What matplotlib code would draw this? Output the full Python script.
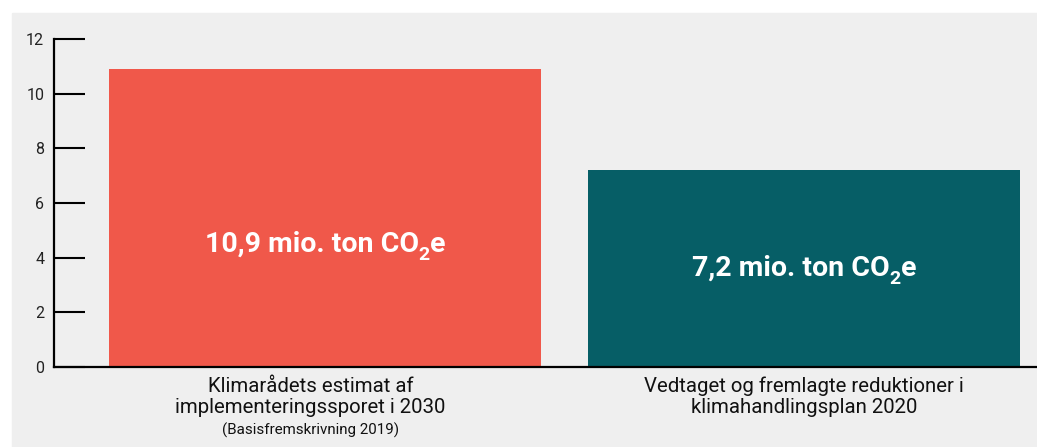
import matplotlib.pyplot as plt
from matplotlib.patches import Rectangle
from matplotlib.transforms import offset_copy

plt.rcParams['font.family'] = ['Roboto', 'DejaVu Sans']

# data
values = [10.9, 7.2]
bar_texts = ['10,9 mio. ton CO', '7,2 mio. ton CO']
categories = ['Klimarådets estimat af\nimplementeringssporet i 2030',
              'Vedtaget og fremlagte reduktioner i\nklimahandlingsplan 2020']
sub_labels = ['(Basisfremskrivning 2019)', '']
colors = ['#F0584A', '#065E66']
yticks = [0, 2, 4, 6, 8, 10, 12]

fig = plt.figure(figsize=(10.37, 4.47), dpi=100)
fig.patch.set_facecolor('white')
# grey panel
fig.patches.append(Rectangle((12 / 1037, 0), 1, (447 - 13) / 447,
                             transform=fig.transFigure, color='#EFEFEF', zorder=-10))

ax = fig.add_axes([54 / 1037, 1 - 367 / 447, 1 - 54 / 1037, 328 / 447])
ax.set_facecolor('none')

x = list(range(len(values)))
ax.bar(x, values, width=0.902, color=colors, zorder=2)
ax.set_xlim(-0.5658, 1.4864)
ax.set_ylim(0, 12)
ax.set_yticks(yticks)
ax.set_yticklabels([str(t) for t in yticks], fontsize=11.5, color='#222222')
ax.tick_params(axis='y', direction='in', length=22, width=1.5, pad=7)
ax.set_xticks([])

for s in ['top', 'right']:
    ax.spines[s].set_visible(False)
ax.spines['left'].set_linewidth(1.6)
ax.spines['bottom'].set_linewidth(1.6)
ax.spines['left'].set_zorder(3)
ax.spines['bottom'].set_zorder(3)

# labels in the bars: main text + subscript 2 + e
label_y = [4.5, 3.6]
pieces = []
for i, txt in enumerate(bar_texts):
    t1 = ax.text(i, label_y[i], txt, ha='left', va='center', color='white',
                 fontsize=20.5, fontweight='bold', zorder=4)
    t2 = ax.annotate('2', xy=(1, 0.1), xycoords=t1, ha='left', va='center',
                     color='white', fontsize=14, fontweight='bold', zorder=4)
    t3 = ax.annotate('e', xy=(1, 0), xycoords=(t2, t1), ha='left', va='bottom',
                     color='white', fontsize=20.5, fontweight='bold', zorder=4)
    pieces.append((t1, t2, t3))

fig.canvas.draw()
r = fig.canvas.get_renderer()
for i, (t1, t2, t3) in enumerate(pieces):
    left = t1.get_window_extent(r).x0
    right = t3.get_window_extent(r).x1
    w = right - left
    t1.set_transform(offset_copy(ax.transData, fig=fig, x=-w / 2 * 72 / fig.dpi,
                                 y=0, units='points'))

# category labels
shift = [-0.03, 0.0]
for i, cat in enumerate(categories):
    ax.text(i + shift[i], -0.35, cat, ha='center', va='top', fontsize=14.7,
            color='#111111', linespacing=1.15, clip_on=False)
    if sub_labels[i]:
        ax.text(i + shift[i], -2.02, sub_labels[i], ha='center', va='top', fontsize=10.9,
                color='#111111', clip_on=False)

fig.savefig('out.png', dpi=100)
